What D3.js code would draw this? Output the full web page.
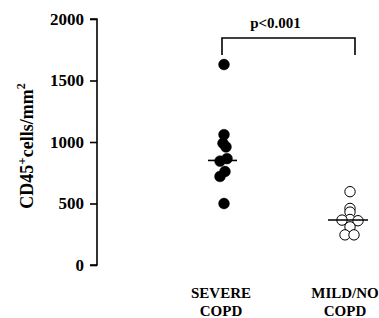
<!DOCTYPE html>
<html><head><meta charset="utf-8">
<script src="https://cdn.jsdelivr.net/npm/d3@7"></script>
<style>body{margin:0;background:#fff}svg{display:block}text{font-family:"Liberation Serif","Times New Roman",serif !important;font-weight:bold;fill:#000}</style>
</head><body><svg id="c" width="379" height="318"></svg>
<script>
const categories = ["SEVERE COPD", "MILD/NO COPD"];
const severeValues = [1630, 1060, 990, 960, 865, 845, 760, 720, 500];
const mildValues = [596, 460, 430, 370, 365, 360, 310, 245, 245];
const medians = [850, 366];
const yTicks = [0, 500, 1000, 1500, 2000];
const pLabel = "p<0.001";

// layout-only horizontal jitter (px) so overlapping points stay visible
const jitter = [[0, 0, -1, 2, 3, -4, 1, -4, 0], [0, 0, 0, 0, -8, 8, 0, -5, 4]];

const svg = d3.select("#c");
const y = d3.scaleLinear().domain([0, 2000]).range([265, 19]);
const x = d3.scalePoint().domain(categories).range([224, 350]);

const ax = svg.append("g").attr("transform", "translate(97,0)")
  .call(d3.axisLeft(y).tickValues(yTicks).tickSize(7).tickPadding(6).tickFormat(d3.format("d")));
ax.attr("font-family", "Liberation Serif").attr("font-size", 17);
ax.select(".domain").attr("stroke", "#000").attr("stroke-width", 1.6).attr("d", `M-7,${y(2000)}H0V${y(0)}H-7`);
ax.selectAll(".tick line").attr("stroke", "#000").attr("stroke-width", 1.6);
ax.selectAll(".tick text").style("font-size", "17px").attr("fill", "#000");

// y label
const yl = svg.append("text").attr("transform", "translate(33,146) rotate(-90)").attr("text-anchor", "middle").style("font-size", "18px");
yl.append("tspan").text("CD45");
yl.append("tspan").text("+").attr("dy", -7).style("font-size", "13px");
yl.append("tspan").text("cells/mm").attr("dy", 7);
yl.append("tspan").text("2").attr("dy", -8).style("font-size", "12px");

// category labels
categories.forEach((c, i) => {
  const parts = c.split(" ");
  const t = svg.append("text").attr("text-anchor", "middle").style("font-size", "15px");
  parts.forEach((p, j) => t.append("tspan").attr("x", x(c) + (i === 1 ? -5 : -3)).attr("y", 298 + j * 18).text(p));
});

// points
const series = [severeValues, mildValues];
series.forEach((vals, i) => {
  svg.append("g").selectAll("circle").data(vals).join("circle")
    .attr("cx", (d, k) => x(categories[i]) + jitter[i][k])
    .attr("cy", d => y(d))
    .attr("r", i === 0 ? 5.4 : 5.2)
    .attr("fill", i === 0 ? "#000" : "#fff")
    .attr("stroke", "#000").attr("stroke-width", i === 0 ? 0.5 : 1);
});

// median lines
svg.append("g").selectAll("line").data(medians).join("line")
  .attr("x1", (d, i) => x(categories[i]) - (i === 0 ? 16 : 22))
  .attr("x2", (d, i) => x(categories[i]) + (i === 0 ? 13 : 18))
  .attr("y1", d => y(d)).attr("y2", d => y(d))
  .attr("stroke", "#000").attr("stroke-width", 1.6);

// significance bracket
const bx1 = x(categories[0]) - 2, bx2 = x(categories[1]) + 5;
svg.append("path").attr("d", `M${bx1},55V38H${bx2}V55`).attr("fill", "none").attr("stroke", "#000").attr("stroke-width", 1.6);
svg.append("text").attr("x", (bx1 + bx2) / 2 - 13).attr("y", 28).attr("text-anchor", "middle").style("font-size", "15px").text(pLabel);
</script></body></html>
